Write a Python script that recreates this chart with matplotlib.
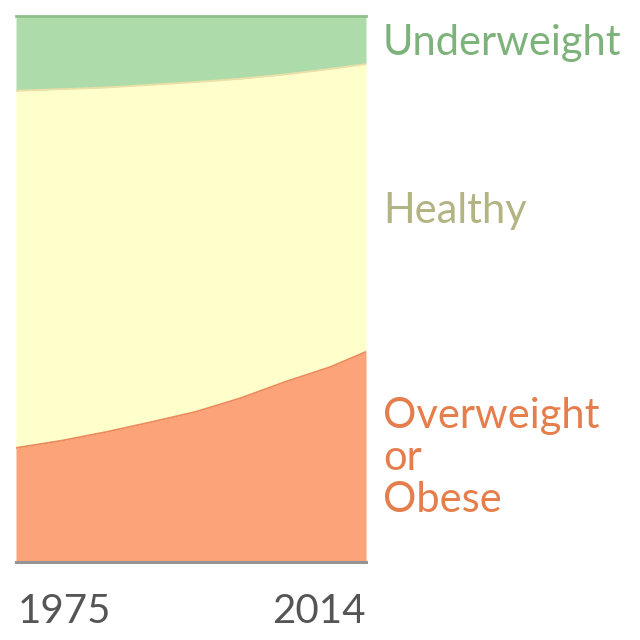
import matplotlib
matplotlib.use("Agg")
import matplotlib.pyplot as plt
import numpy as np

years = [1975, 1980, 1985, 1990, 1995, 2000, 2005, 2010, 2014]
overweight = [0.209, 0.222, 0.238, 0.256, 0.275, 0.300, 0.330, 0.357, 0.385]
underweight = [0.137, 0.134, 0.131, 0.126, 0.121, 0.115, 0.107, 0.097, 0.088]
healthy = [1 - o - u for o, u in zip(overweight, underweight)]
labels = ["Overweight\nor\nObese", "Healthy", "Underweight"]

plt.rcParams['font.family'] = ['Lato', 'DejaVu Sans']

fig = plt.figure(figsize=(6.4, 6.4), dpi=100)
ax = fig.add_axes([16/640, 78/640, 350/640, 546/640])

ow = np.array(overweight)
hl = ow + np.array(healthy)
ax.fill_between(years, 0, ow, color="#fca379", lw=0)
ax.fill_between(years, ow, hl, color="#ffffcb", lw=0)
ax.fill_between(years, hl, 1, color="#addcaa", lw=0)
ax.plot(years, ow, color="#eb8a5c", lw=1.3)
ax.plot(years, hl, color="#ecdfa8", lw=1.3)
ax.axhline(1, color="#8fbf8b", lw=2, clip_on=False)
ax.axhline(0, color="#949494", lw=2.2, clip_on=False)

ax.set_xlim(years[0], years[-1])
ax.set_ylim(0, 1)
ax.axis("off")

ax.text(0.005, -0.112, str(years[0]), transform=ax.transAxes, ha="left", va="baseline",
        fontsize=29, color="#555555")
ax.text(1.0, -0.112, str(years[-1]), transform=ax.transAxes, ha="right", va="baseline",
        fontsize=29, color="#555555")

fig.text(383/640, 1 - 55/640, labels[2], fontsize=30, color="#7db37a", va="baseline")
fig.text(383/640, 1 - 223/640, labels[1], fontsize=30, color="#b3b384", va="baseline")
for i, line in enumerate(labels[0].split("\n")):
    fig.text(383/640, 1 - (428 + 42 * i)/640, line, fontsize=30, color="#e47f4d",
             va="baseline")

fig.savefig("out.png", dpi=100)
